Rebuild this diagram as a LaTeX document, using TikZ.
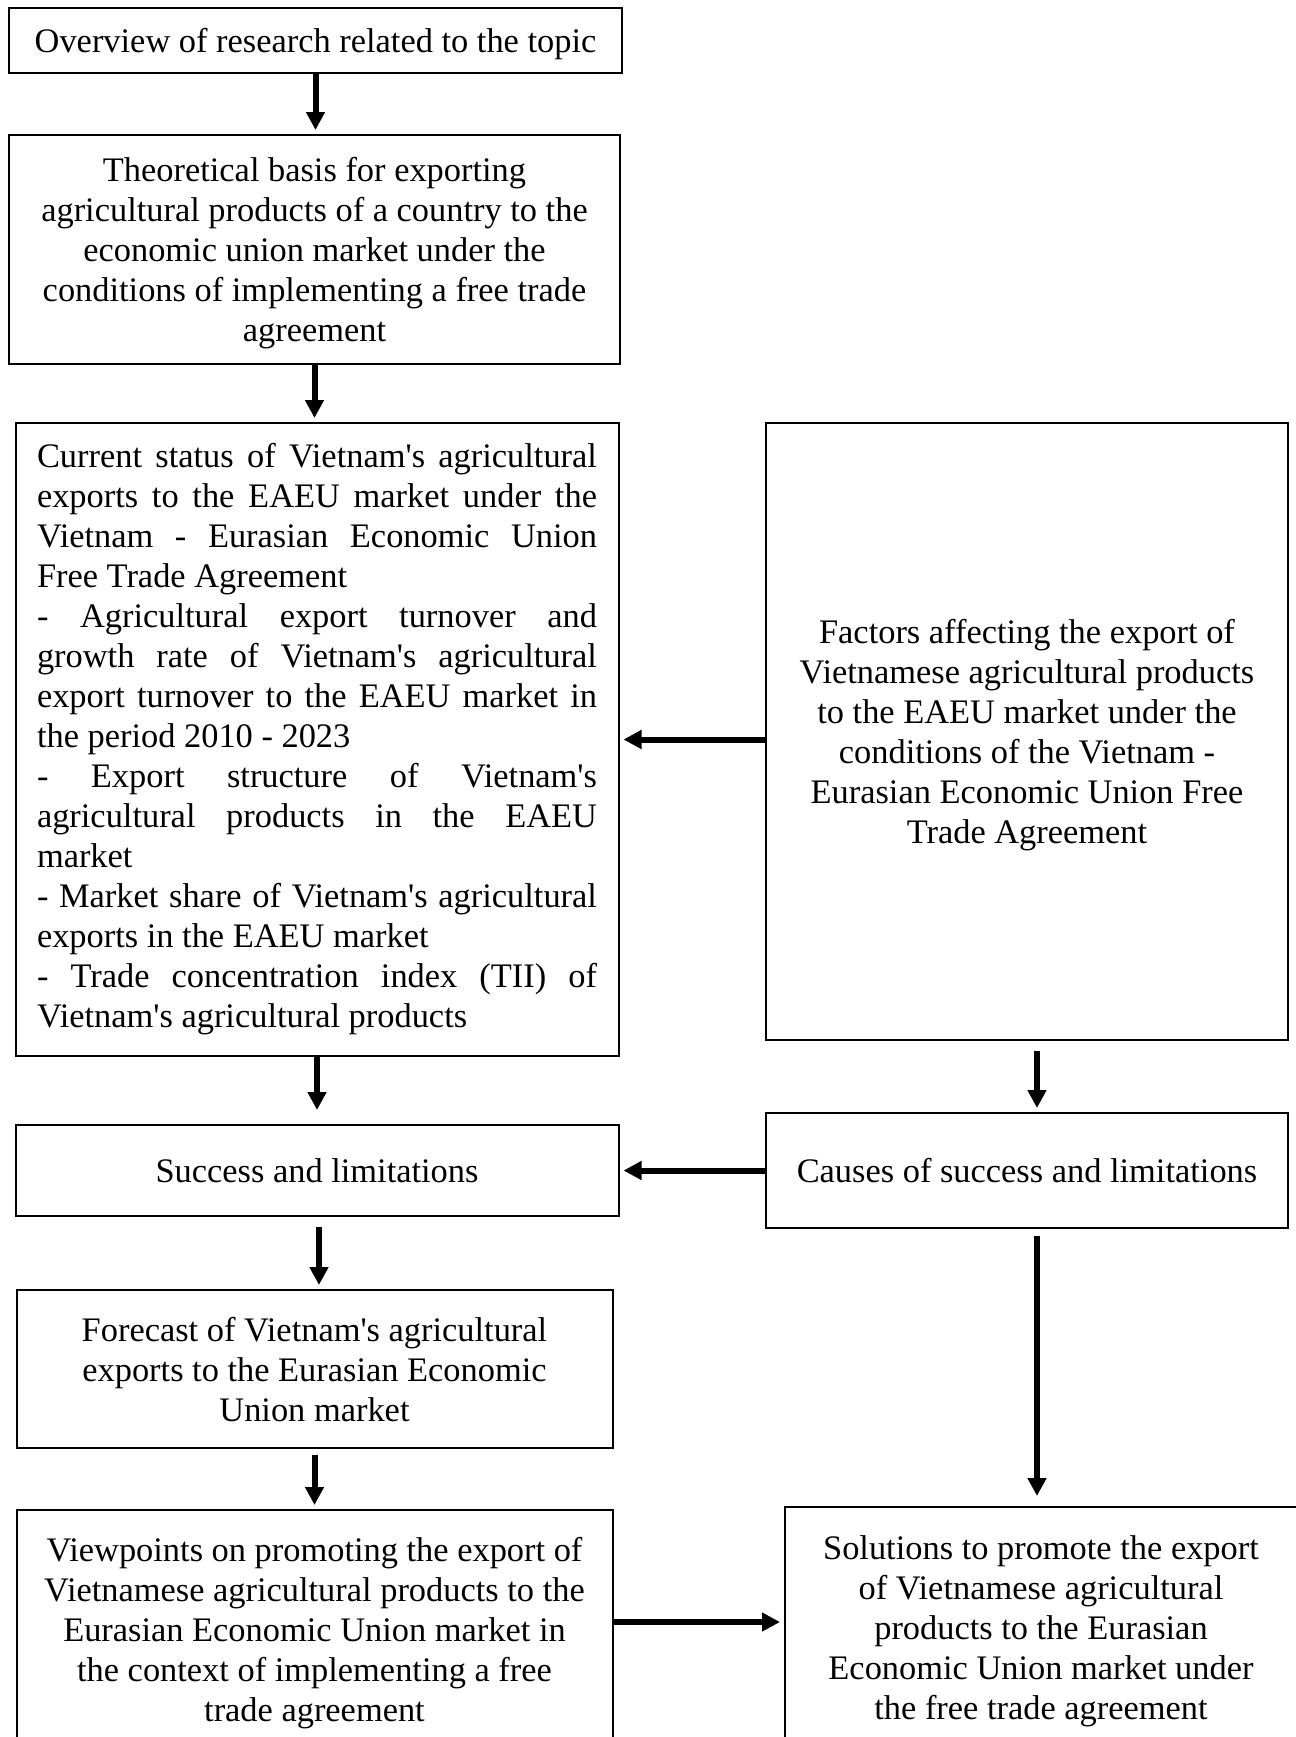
\documentclass[tikz,border=0pt]{standalone}
\usepackage{fontspec}
\setmainfont{Liberation Serif}[Ligatures=TeXOff]
\usepackage{tikz}
\usetikzlibrary{arrows.meta}

\begin{document}
\begin{tikzpicture}[x=0.5pt, y=-0.5pt,
    stagebox/.style={rectangle, draw, line width=1pt, inner sep=0pt, align=center, text depth=0pt,
      font=\fontsize{17.2}{20}\selectfont},
    flow/.style={-{Triangle[length=9pt, width=9pt]}, line width=3pt, shorten >=2pt}]
      \clip (0,0) rectangle (1296,1737);

      \begin{scope}[every node/.style={stagebox}]
        \node [minimum width=306.5pt, minimum height=32.5pt] (overview) at (315.5,40.5) {Overview of research related to the topic};
        \node [minimum width=305.5pt, minimum height=114.5pt] (theory) at (314.5,249.5) {Theoretical basis for exporting\\ agricultural products of a country to the\\ economic union market under the\\ conditions of implementing a free trade\\ agreement};
        \node [minimum width=301.5pt, minimum height=316.5pt, text width=280pt, align=justify, text depth=] (status) at (317,739.5) {Current status of Vietnam's agricultural\linebreak exports to the EAEU market under the\linebreak Vietnam - Eurasian Economic Union\linebreak Free Trade Agreement\\
          - Agricultural export turnover and\linebreak growth rate of Vietnam's agricultural\linebreak export turnover to the EAEU market in\linebreak the period 2010 - 2023\\
          - Export structure of Vietnam's\linebreak agricultural products in the EAEU\linebreak market\\
          - Market share of Vietnam's agricultural\linebreak exports in the EAEU market\\
          - Trade concentration index (TII) of\linebreak Vietnam's agricultural products};
        \node [minimum width=261pt, minimum height=308.5pt] (factors) at (1027,731.5) {Factors affecting the export of\\ Vietnamese agricultural products\\ to the EAEU market under the\\ conditions of the Vietnam -\\ Eurasian Economic Union Free\\ Trade Agreement};
        \node [minimum width=301.5pt, minimum height=45.5pt] (success) at (317,1170.5) {Success and limitations};
        \node [minimum width=261pt, minimum height=57.5pt] (causes) at (1027,1170.5) {Causes of success and limitations};
        \node [minimum width=298pt, minimum height=79pt] (forecast) at (314.5,1369) {Forecast of Vietnam's agricultural\\ exports to the Eurasian Economic\\ Union market};
        \node [minimum width=298pt, minimum height=119pt] (views) at (314.5,1629) {Viewpoints on promoting the export of\\ Vietnamese agricultural products to the\\ Eurasian Economic Union market in\\ the context of implementing a free\\ trade agreement};
        \node [minimum width=256pt, minimum height=121pt] (solutions) at (1041,1628) {Solutions to promote the export\\ of Vietnamese agricultural\\ products to the Eurasian\\ Economic Union market under\\ the free trade agreement};
      \end{scope}

      \begin{scope}[every path/.style={flow}]
        \draw (overview.south) -- (overview.south |- theory.north);
        \draw (theory.south) -- (theory.south |- status.north);
        \draw (status.south) -- ([yshift=5pt]status.south |- success.north);
        \draw ([xshift=1pt,yshift=-5pt]success.south) -- ([xshift=1pt]success.south |- forecast.north);
        \draw ([yshift=-3pt]forecast.south) -- (forecast.south |- views.north);
        \draw (factors.west |- status.east) -- (status.east);
        \draw (causes.west |- success.east) -- (success.east);
        \draw (views.east |- 0,1622) -- (solutions.west |- 0,1622);
        \draw ([xshift=5pt,yshift=-5pt]factors.south) -- ([xshift=5pt]causes.north);
        \draw ([xshift=5pt,yshift=-3.5pt]causes.south) -- ([xshift=5pt,yshift=3pt]causes.south |- solutions.north);
      \end{scope}
\end{tikzpicture}
\end{document}
